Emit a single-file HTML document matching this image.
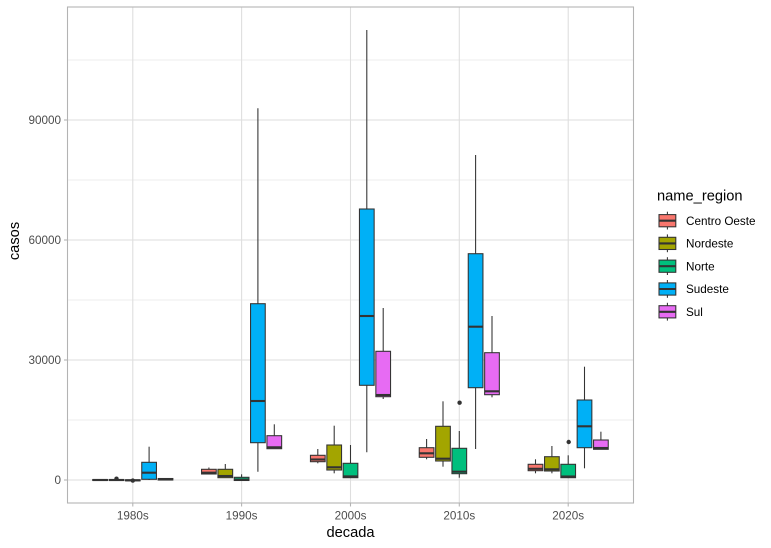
<!DOCTYPE html>
<html>
<head>
<meta charset="utf-8">
<style>
html,body{margin:0;padding:0;background:#fff;}
svg{display:block;font-family:"Liberation Sans",Arial,sans-serif;}
</style>
</head>
<body>
<svg width="771" height="548" viewBox="0 0 771 548" xmlns="http://www.w3.org/2000/svg">
<rect width="771" height="548" fill="#fff"/>
<!-- minor grid -->
<g stroke="#DEDEDE" stroke-width="0.55">
<line x1="67.5" x2="633.5" y1="420" y2="420"/>
<line x1="67.5" x2="633.5" y1="300" y2="300"/>
<line x1="67.5" x2="633.5" y1="180" y2="180"/>
<line x1="67.5" x2="633.5" y1="60" y2="60"/>
</g>
<!-- major grid -->
<g stroke="#DEDEDE" stroke-width="1.07">
<line x1="67.5" x2="633.5" y1="480" y2="480"/>
<line x1="67.5" x2="633.5" y1="360" y2="360"/>
<line x1="67.5" x2="633.5" y1="240" y2="240"/>
<line x1="67.5" x2="633.5" y1="120" y2="120"/>
<line x1="132.8" x2="132.8" y1="7" y2="503"/>
<line x1="241.6" x2="241.6" y1="7" y2="503"/>
<line x1="350.5" x2="350.5" y1="7" y2="503"/>
<line x1="459.3" x2="459.3" y1="7" y2="503"/>
<line x1="568.2" x2="568.2" y1="7" y2="503"/>
</g>

<!-- boxes -->
<g stroke="#333333" stroke-width="1.07">
<!-- 1980s -->
<rect x="92.75" y="479.5" width="14.7" height="1" fill="#F8766D"/>
<line x1="92.75" x2="107.45" y1="480" y2="480" stroke-width="2.1"/>
<rect x="109.15" y="479.5" width="14.7" height="1" fill="#A3A500"/>
<line x1="109.15" x2="123.85" y1="480" y2="480" stroke-width="2.1"/>
<circle cx="116.5" cy="478.7" r="2.2" fill="#333" stroke="none"/>
<rect x="125.45" y="479.8" width="14.7" height="1" fill="#00BF7D"/>
<line x1="125.45" x2="140.15" y1="480.3" y2="480.3" stroke-width="2.1"/>
<circle cx="132.8" cy="480.6" r="2.2" fill="#333" stroke="none"/>
<line x1="149.1" x2="149.1" y1="446.7" y2="480"/>
<rect x="141.75" y="462.3" width="14.7" height="17" fill="#00B0F6"/>
<line x1="141.75" x2="156.45" y1="472.7" y2="472.7" stroke-width="2.1"/>
<line x1="165.5" x2="165.5" y1="478" y2="480"/>
<rect x="158.15" y="478.5" width="14.7" height="1.5" fill="#E76BF3"/>
<line x1="158.15" x2="172.85" y1="479.5" y2="479.5" stroke-width="2.1"/>

<!-- 1990s -->
<line x1="208.9" x2="208.9" y1="467.5" y2="474.5"/>
<rect x="201.55" y="469.3" width="14.7" height="4.7" fill="#F8766D"/>
<line x1="201.55" x2="216.25" y1="472.7" y2="472.7" stroke-width="2.1"/>
<line x1="225.3" x2="225.3" y1="464" y2="478"/>
<rect x="217.95" y="469.3" width="14.7" height="8.4" fill="#A3A500"/>
<line x1="217.95" x2="232.65" y1="476" y2="476" stroke-width="2.1"/>
<line x1="241.6" x2="241.6" y1="474.3" y2="480.5"/>
<rect x="234.25" y="477.3" width="14.7" height="3.2" fill="#00BF7D"/>
<line x1="234.25" x2="248.95" y1="479.6" y2="479.6" stroke-width="2.1"/>
<line x1="257.9" x2="257.9" y1="108.3" y2="471.7"/>
<rect x="250.55" y="303.7" width="14.7" height="139" fill="#00B0F6"/>
<line x1="250.55" x2="265.25" y1="401" y2="401" stroke-width="2.1"/>
<line x1="274.3" x2="274.3" y1="424.3" y2="448.7"/>
<rect x="266.95" y="435.7" width="14.7" height="13" fill="#E76BF3"/>
<line x1="266.95" x2="281.65" y1="447.3" y2="447.3" stroke-width="2.1"/>

<!-- 2000s -->
<line x1="317.8" x2="317.8" y1="449" y2="463.3"/>
<rect x="310.45" y="455.3" width="14.7" height="6.4" fill="#F8766D"/>
<line x1="310.45" x2="325.15" y1="459.5" y2="459.5" stroke-width="2.1"/>
<line x1="334.2" x2="334.2" y1="425.7" y2="473.3"/>
<rect x="326.85" y="445" width="14.7" height="25" fill="#A3A500"/>
<line x1="326.85" x2="341.55" y1="467.3" y2="467.3" stroke-width="2.1"/>
<line x1="350.5" x2="350.5" y1="445" y2="478"/>
<rect x="343.15" y="463.3" width="14.7" height="14.4" fill="#00BF7D"/>
<line x1="343.15" x2="357.85" y1="476.4" y2="476.4" stroke-width="2.1"/>
<line x1="366.8" x2="366.8" y1="30" y2="452.3"/>
<rect x="359.45" y="209" width="14.7" height="176.3" fill="#00B0F6"/>
<line x1="359.45" x2="374.15" y1="316" y2="316" stroke-width="2.1"/>
<line x1="383.2" x2="383.2" y1="308" y2="399"/>
<rect x="375.85" y="351.3" width="14.7" height="45.4" fill="#E76BF3"/>
<line x1="375.85" x2="390.55" y1="395" y2="395" stroke-width="2.1"/>

<!-- 2010s -->
<line x1="426.6" x2="426.6" y1="439" y2="459.3"/>
<rect x="419.25" y="447.7" width="14.7" height="9.6" fill="#F8766D"/>
<line x1="419.25" x2="433.95" y1="453.3" y2="453.3" stroke-width="2.1"/>
<line x1="443" x2="443" y1="401.3" y2="466.7"/>
<rect x="435.65" y="426.3" width="14.7" height="34.7" fill="#A3A500"/>
<line x1="435.65" x2="450.35" y1="458.7" y2="458.7" stroke-width="2.1"/>
<line x1="459.3" x2="459.3" y1="431" y2="477.7"/>
<rect x="451.95" y="448.3" width="14.7" height="25.4" fill="#00BF7D"/>
<line x1="451.95" x2="466.65" y1="471.7" y2="471.7" stroke-width="2.1"/>
<circle cx="459.6" cy="402.7" r="2.2" fill="#333" stroke="none"/>
<line x1="475.6" x2="475.6" y1="155" y2="449"/>
<rect x="468.25" y="253.7" width="14.7" height="134" fill="#00B0F6"/>
<line x1="468.25" x2="482.95" y1="326.7" y2="326.7" stroke-width="2.1"/>
<line x1="492" x2="492" y1="316" y2="397.3"/>
<rect x="484.65" y="352.7" width="14.7" height="42" fill="#E76BF3"/>
<line x1="484.65" x2="499.35" y1="391.3" y2="391.3" stroke-width="2.1"/>

<!-- 2020s -->
<line x1="535.5" x2="535.5" y1="459.3" y2="473.3"/>
<rect x="528.15" y="464.3" width="14.7" height="6.4" fill="#F8766D"/>
<line x1="528.15" x2="542.85" y1="468.8" y2="468.8" stroke-width="2.1"/>
<line x1="551.9" x2="551.9" y1="446" y2="473.3"/>
<rect x="544.55" y="456.7" width="14.7" height="14.3" fill="#A3A500"/>
<line x1="544.55" x2="559.25" y1="469.3" y2="469.3" stroke-width="2.1"/>
<line x1="568.2" x2="568.2" y1="455.3" y2="478"/>
<rect x="560.85" y="464.3" width="14.7" height="13.4" fill="#00BF7D"/>
<line x1="560.85" x2="575.55" y1="476.5" y2="476.5" stroke-width="2.1"/>
<circle cx="568.7" cy="442" r="2.2" fill="#333" stroke="none"/>
<line x1="584.5" x2="584.5" y1="366.7" y2="468.3"/>
<rect x="577.15" y="400" width="14.7" height="47.7" fill="#00B0F6"/>
<line x1="577.15" x2="591.85" y1="426.3" y2="426.3" stroke-width="2.1"/>
<line x1="600.9" x2="600.9" y1="431.7" y2="449.3"/>
<rect x="593.55" y="440" width="14.7" height="9.3" fill="#E76BF3"/>
<line x1="593.55" x2="608.25" y1="448" y2="448" stroke-width="2.1"/>
</g>

<!-- panel border -->
<rect x="67.5" y="7" width="566" height="496" fill="none" stroke="#B3B3B3" stroke-width="1.07"/>

<!-- ticks -->
<g stroke="#B3B3B3" stroke-width="1.07">
<line x1="64" x2="67.5" y1="480" y2="480"/>
<line x1="64" x2="67.5" y1="360" y2="360"/>
<line x1="64" x2="67.5" y1="240" y2="240"/>
<line x1="64" x2="67.5" y1="120" y2="120"/>
<line x1="132.8" x2="132.8" y1="503" y2="506.5"/>
<line x1="241.6" x2="241.6" y1="503" y2="506.5"/>
<line x1="350.5" x2="350.5" y1="503" y2="506.5"/>
<line x1="459.3" x2="459.3" y1="503" y2="506.5"/>
<line x1="568.2" x2="568.2" y1="503" y2="506.5"/>
</g>

<!-- axis text -->
<g fill="#4D4D4D" font-size="11.7" text-anchor="end">
<text x="61" y="484.2">0</text>
<text x="61" y="364.2">30000</text>
<text x="61" y="244.2">60000</text>
<text x="61" y="124.2">90000</text>
</g>
<g fill="#4D4D4D" font-size="11.7" text-anchor="middle">
<text x="132.8" y="519.3">1980s</text>
<text x="241.6" y="519.3">1990s</text>
<text x="350.5" y="519.3">2000s</text>
<text x="459.3" y="519.3">2010s</text>
<text x="568.2" y="519.3">2020s</text>
</g>
<text x="350.5" y="537" font-size="14.67" text-anchor="middle" fill="#000">decada</text>
<text transform="translate(19,241) rotate(-90)" font-size="14.67" text-anchor="middle" fill="#000">casos</text>

<!-- legend -->
<text x="657" y="200.5" font-size="14.67" fill="#000">name_region</text>
<g stroke="#333333" stroke-width="1.07">
<line x1="667.4" x2="667.4" y1="211.7" y2="229.5"/>
<rect x="659" y="214.6" width="16.8" height="12.2" fill="#F8766D"/>
<line x1="659" x2="675.8" y1="220.7" y2="220.7" stroke-width="2.1"/>

<line x1="667.4" x2="667.4" y1="234.4" y2="252.2"/>
<rect x="659" y="237.3" width="16.8" height="12.2" fill="#A3A500"/>
<line x1="659" x2="675.8" y1="243.4" y2="243.4" stroke-width="2.1"/>

<line x1="667.4" x2="667.4" y1="257.2" y2="275"/>
<rect x="659" y="260.1" width="16.8" height="12.2" fill="#00BF7D"/>
<line x1="659" x2="675.8" y1="266.2" y2="266.2" stroke-width="2.1"/>

<line x1="667.4" x2="667.4" y1="280" y2="297.8"/>
<rect x="659" y="282.9" width="16.8" height="12.2" fill="#00B0F6"/>
<line x1="659" x2="675.8" y1="289" y2="289" stroke-width="2.1"/>

<line x1="667.4" x2="667.4" y1="302.8" y2="320.6"/>
<rect x="659" y="305.7" width="16.8" height="12.2" fill="#E76BF3"/>
<line x1="659" x2="675.8" y1="311.8" y2="311.8" stroke-width="2.1"/>
</g>
<g fill="#000" font-size="11.7">
<text x="686" y="224.9">Centro Oeste</text>
<text x="686" y="247.6">Nordeste</text>
<text x="686" y="270.4">Norte</text>
<text x="686" y="293.2">Sudeste</text>
<text x="686" y="316">Sul</text>
</g>
</svg>
</body>
</html>
